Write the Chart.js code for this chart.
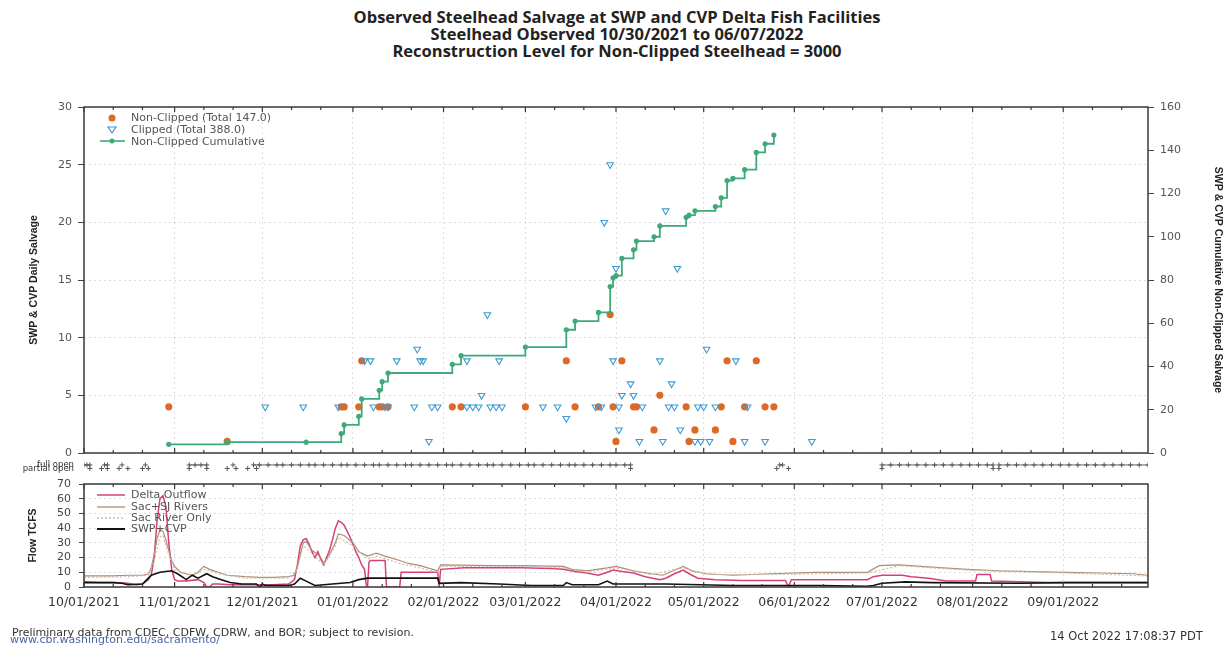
<!DOCTYPE html>
<html><head><meta charset="utf-8">
<script src="https://cdn.jsdelivr.net/npm/chart.js@4.4.1/dist/chart.umd.min.js"></script>
<style>
body{margin:0;background:#fff;width:1228px;height:648px;position:relative;overflow:hidden;font-family:'DejaVu Sans',sans-serif;}
.t{position:absolute;white-space:nowrap;line-height:1;}
#title{position:absolute;left:0;width:1234px;top:8px;text-align:center;font:bold 16.5px 'Open Sans',sans-serif;line-height:17px;color:#222;}
canvas{position:absolute;left:0;}
svg{position:absolute;left:0;top:0;}
</style></head><body>
<div id="title">Observed Steelhead Salvage at SWP and CVP Delta Fish Facilities<br>Steelhead Observed 10/30/2021 to 06/07/2022<br>Reconstruction Level for Non-Clipped Steelhead = 3000</div>
<canvas id="c1" width="1228" height="360" style="top:100px;width:1228px;height:360px"></canvas>
<canvas id="c2" width="1228" height="22" style="top:455px;width:1228px;height:22px"></canvas>
<canvas id="c3" width="1228" height="140" style="top:478px;width:1228px;height:140px"></canvas>
<svg width="1228" height="648">
  <circle cx="112" cy="118" r="3.5" fill="#dc6a26"/>
  <polygon points="108,127 116,127 112,133" fill="none" stroke="#3d9bd1" stroke-width="1.2"/>
  <line x1="100" y1="141" x2="125" y2="141" stroke="#3daa78" stroke-width="1.6"/>
  <circle cx="112" cy="141" r="2.5" fill="#3daa78"/>
  <line x1="97" y1="495" x2="125" y2="495" stroke="#d6407a" stroke-width="1.5"/>
  <line x1="97" y1="507" x2="125" y2="507" stroke="#b08c72" stroke-width="1.3"/>
  <line x1="97" y1="518" x2="125" y2="518" stroke="#c9bfae" stroke-width="1.3" stroke-dasharray="2,2"/>
  <line x1="97" y1="529" x2="125" y2="529" stroke="#111" stroke-width="2"/>
</svg>
<div class="t" style="left:131px;top:112px;font-size:11px;color:#555">Non-Clipped (Total 147.0)</div>
<div class="t" style="left:131px;top:124px;font-size:11px;color:#555">Clipped (Total 388.0)</div>
<div class="t" style="left:131px;top:136px;font-size:11px;color:#555">Non-Clipped Cumulative</div>
<div class="t" style="left:131px;top:489px;font-size:11px;color:#555">Delta Outflow</div>
<div class="t" style="left:131px;top:501px;font-size:11px;color:#555">Sac+SJ Rivers</div>
<div class="t" style="left:131px;top:512px;font-size:11px;color:#555">Sac River Only</div>
<div class="t" style="left:131px;top:523px;font-size:11px;color:#555">SWP+CVP</div>
<div class="t" style="left:12px;top:627px;font-size:11px;color:#333">Preliminary data from CDEC, CDFW, CDRW, and BOR; subject to revision.</div>
<div class="t" style="left:10px;top:634px;font-size:11px;color:#4a64a8">www.cbr.washington.edu/sacramento/</div>
<div class="t" style="left:1050px;top:631px;font-size:11.5px;color:#333">14 Oct 2022 17:08:37 PDT</div>
<script>
// x values are days since 10/01/2021
const monthTickDays=[0,31,61,92,123,151,182,212,243,273,304,335];
const monthTickLabels=['10/01/2021','11/01/2021','12/01/2021','01/01/2022','02/01/2022','03/01/2022','04/01/2022','05/01/2022','06/01/2022','07/01/2022','08/01/2022','09/01/2022'];
const minorTickDays=[10,20,41,51,71,81,102,112,133,143,161,171,192,202,222,232,253,263,283,293,314,324,345,355];
const xMin=0, xMax=364;

// Non-clipped daily salvage
const ncDays=[29,49,88,89,94,95,101,102,104,126,129,151,165,168,176,180,181,182,184,188,189,195,197,206,207,209,216,218,220,222,226,230,233,236];
const ncValues=[4,1,4,4,4,8,4,4,4,4,4,4,8,4,4,12,4,1,8,4,4,2,5,4,1,2,2,4,8,1,4,8,4,4];
// Clipped daily salvage
const cDays=[62,75,87,96,98,99,103,104,107,113,114,115,116,118,119,121,131,131,133,135,136,138,139,141,142,143,157,162,165,175,177,178,180,181,182,183,183,184,187,188,190,191,197,198,199,200,201,202,203,204,209,210,211,212,213,214,216,223,226,227,233,249];
const cValues=[4,4,4,8,8,4,4,4,8,4,9,8,8,1,4,4,4,8,4,4,5,12,4,4,8,4,4,4,3,4,4,20,25,8,16,2,4,5,6,5,1,4,8,1,21,4,6,4,16,2,1,4,1,4,9,1,4,8,1,4,1,1];
// Non-clipped cumulative
const cumDays=[29,49,76,88,89,94,95,101,102,104,126,129,151,165,168,176,180,181,182,184,188,189,195,197,206,207,209,216,218,220,222,226,230,233,236];
const cumValues=[4,5,5,9,13,17,25,29,33,37,41,45,49,57,61,65,77,81,82,90,94,98,100,105,109,110,112,114,118,126,127,131,139,143,147];

// Gate status markers
const fullOpenDays=[0,1,2,null,7,8,null,13,null,21,null,36,38,40,42,null,51,null,58,60,63,66,68,71,74,77,79,82,85,88,90,93,96,99,101,104,107,110,112,115,118,121,124,126,129,132,135,138,140,143,146,149,152,154,157,160,163,166,168,171,174,177,180,182,185,187,null,238,239,null,273,276,279,282,285,288,291,294,297,300,303,306,309,311,null,313,316,319,322,325,328,331,334,337,340,343,346,349,352,355,358,361,364];
const partialOpenDays=[2,6,8,12,15,20,22,36,42,49,52,56,59,187,237,241,273,311,313];

// Flows (TCFS)
const deltaDays=[0,5,10,15,18,20,21,22,23,24,25,26,27,28,29,30,31,32,35,39,41,42,43,44,46,50,55,60,65,70,72,73,74,75,76,77,78,79,80,81,82,83,84,85,86,87,88,89,90,91,92,93,94,95,96,96.5,97,97.5,98,103,103.5,108,108.5,115,121,121.5,122,130,140,150,160,164,168,172,176,179,181,184,188,192,197,199,202,205,207,210,216,225,235,240,241,242,250,260,268,270,273,280,283,289,295,305,305.5,310,310.5,320,330,340,350,364];
const deltaFlow=[3.5,3,3,2.5,1.5,2,3.5,5,8,20,45,60,62,55,30,12,5,4,4,5,3,0,0,2,2,1.5,1.5,1.5,1.5,2,5,15,28,32,33,29,24,20,24,19,15,20,25,32,40,45,44,42,38,34,29,24,20,15,12,2,0,17,18,18,0,0,10,10,10,0,12,13,13,13,12.5,12,10.5,9.5,8,10,11.5,10.5,9.5,7,5,6,9,11.5,9,6,5,4.5,4.5,4.5,0,5,5,5,5,7,8,8,7,6,4,4,8.5,8.5,4,3.5,3,3,3,3];
const sacSjDays=[0,10,15,20,22,23,24,25,26,27,28,29,30,31,33,37,39,41,43,46,49,55,60,65,70,72,73,74,75,76,78,80,81,82,84,86,87,89,92,94,97,100,103,108,111,115,121,122,140,150,164,167,172,179,182,188,194,198,205,208,213,222,235,250,260,268,272,279,290,302,313,336,348,359,364];
const sacSjFlow=[7.5,7.5,8,8,9,13,22,33,39,38,32,25,18,14,10,8,10,14,12,10,8,7,6.5,6.5,7,8,14,22,30,31,25,22,20,16,22,30,36,35,30,24,21,23,21,18,16,14.5,11,15,14.5,14.5,14,12,11,13,14,11,9,8,14,11,9,8,9,10,10,10,14.5,15,13.5,12,11,10,9.5,9,8];
const sacDays=[0,15,22,24,26,27,29,31,37,41,46,55,70,73,75,78,82,86,87,92,97,100,108,115,121,122,150,164,172,182,194,205,213,235,268,279,302,336,364];
const sacFlow=[6.5,7,8,18,34,35,22,12,7,12,9,6,6,12,28,23,15,28,34,28,19,21,16,13,10,14,14,13,10,13,8.5,13,8.5,8.5,9.5,14.5,11.5,9.5,7.5];
const pumpDays=[0,10,13,15,20,21,23,26,30,32,35,37,39,42,44,47,50,54,59,60,61,62,70,72,74,76,79,85,91,94,97,108,115,121,121.5,129,142,153,164,165,167,176,179,181,188,199,211,222,252,268,270,273,281,290,320,336,350,364];
const pumpFlow=[3,3,2.5,1.5,2,4,8,10,11,9,5,8,6,9,7,5,3,2,2,0,2,1,1,2,6,4,1,2,3,5,6,6,6,6,2.5,3,2,1,1,3,1.5,1.5,4,2,2,2,1.5,1,1,0.5,1,2.5,3.5,3,2.5,3,3,3];

const pts=(xs,ys)=>xs.map((d,i)=>({x:d,y:ys[i]}));
Chart.defaults.font.family="'DejaVu Sans', sans-serif";
Chart.defaults.animation=false;
const gridCol='rgba(0,0,0,0.13)';
const titleFont={size:10.5,weight:'bold',family:"'Liberation Sans Narrow','Liberation Sans',sans-serif"};

const framePlugin={id:'frame',afterDraw(chart){
  const {ctx,chartArea:a}=chart; const xs=chart.scales.x;
  ctx.save(); ctx.strokeStyle='#3a3a3a'; ctx.lineWidth=1.5;
  ctx.strokeRect(a.left,a.top,a.right-a.left,a.bottom-a.top);
  ctx.lineWidth=1.2; ctx.beginPath();
  monthTickDays.forEach(d=>{const p=xs.getPixelForValue(d);ctx.moveTo(p,a.bottom);ctx.lineTo(p,a.bottom-5);ctx.moveTo(p,a.top);ctx.lineTo(p,a.top+5);});
  minorTickDays.forEach(d=>{const p=xs.getPixelForValue(d);ctx.moveTo(p,a.bottom);ctx.lineTo(p,a.bottom-3);ctx.moveTo(p,a.top);ctx.lineTo(p,a.top+3);});
  ctx.stroke(); ctx.restore();
}};
const monthTicks=s=>{s.ticks=monthTickDays.map(v=>({value:v}));};
const fitV=w=>s=>{s.width=w;s.paddingTop=0;s.paddingBottom=0;};
const fitH=h=>s=>{s.height=h;s.paddingLeft=0;s.paddingRight=0;};

new Chart(document.getElementById('c1'),{
  data:{datasets:[
    {type:'line',label:'Non-Clipped Cumulative',data:pts(cumDays,cumValues),yAxisID:'y2',stepped:true,borderColor:'#3daa78',borderWidth:1.8,pointRadius:2.6,pointBackgroundColor:'#3daa78',pointBorderWidth:0},
    {type:'scatter',label:'Clipped (Total 388.0)',data:pts(cDays,cValues),yAxisID:'y',pointStyle:'triangle',rotation:180,pointRadius:3.8,backgroundColor:'rgba(255,255,255,0)',borderColor:'#3d9bd1',pointBorderWidth:1.1},
    {type:'scatter',label:'Non-Clipped (Total 147.0)',data:pts(ncDays,ncValues),yAxisID:'y',pointStyle:'circle',pointRadius:3.6,backgroundColor:'#dc6a26',borderWidth:0}
  ]},
  options:{responsive:false,devicePixelRatio:1,layout:{padding:{top:7,left:0,right:0,bottom:0}},
    plugins:{legend:{display:false},tooltip:{enabled:false}},
    scales:{
      x:{type:'linear',min:xMin,max:xMax,afterBuildTicks:monthTicks,ticks:{display:false},grid:{color:gridCol,drawTicks:false},border:{display:false,dash:[2,3]},afterFit:fitH(7)},
      y:{position:'left',min:0,max:30,ticks:{stepSize:5,autoSkip:false,color:'#555',font:{size:11},padding:6},grid:{color:gridCol,tickColor:'#444',tickLength:6},border:{display:false,dash:[2,3]},
         title:{display:true,text:'SWP & CVP Daily Salvage',color:'#222',font:titleFont,padding:{top:28,bottom:0}},afterFit:fitV(84)},
      y2:{position:'right',min:0,max:160,ticks:{stepSize:20,autoSkip:false,color:'#555',font:{size:11},padding:6},grid:{drawOnChartArea:false,tickColor:'#444',tickLength:6},border:{display:false},
         title:{display:true,text:'SWP & CVP Cumulative Non-Clipped Salvage',color:'#222',font:titleFont,padding:{top:4,bottom:0}},afterFit:fitV(80)}
    }},
  plugins:[framePlugin]
});

new Chart(document.getElementById('c2'),{
  type:'line',
  data:{datasets:[
    {label:'full open',data:fullOpenDays.map(d=>({x:d,y:d===null?null:2})),borderColor:'#666',borderWidth:1,pointStyle:'cross',pointRadius:2.5,pointBorderColor:'#555',pointBorderWidth:1,spanGaps:false},
    {label:'partial open',data:partialOpenDays.map(d=>({x:d,y:1})),showLine:false,pointStyle:'cross',pointRadius:2.5,pointBorderColor:'#555',pointBorderWidth:1}
  ]},
  options:{responsive:false,devicePixelRatio:1,layout:{padding:{top:0,right:80,bottom:0,left:0}},
    plugins:{legend:{display:false},tooltip:{enabled:false}},
    scales:{
      x:{type:'linear',min:xMin,max:xMax,display:false},
      y:{min:0,max:3.4,afterBuildTicks:s=>{s.ticks=[{value:1},{value:2}];},ticks:{autoSkip:false,callback:v=>v===2?'full open':(v===1?'partial open':''),font:{size:8.5},color:'#333',padding:2},grid:{display:false},border:{display:false},afterFit:fitV(84)}
    }}
});

new Chart(document.getElementById('c3'),{
  type:'line',
  data:{datasets:[
    {label:'SWP+CVP',data:pts(pumpDays,pumpFlow),borderColor:'#111',borderWidth:1.6,pointRadius:0},
    {label:'Sac River Only',data:pts(sacDays,sacFlow),borderColor:'#c9bfae',borderWidth:1.2,borderDash:[2,2],pointRadius:0},
    {label:'Sac+SJ Rivers',data:pts(sacSjDays,sacSjFlow),borderColor:'#b08c72',borderWidth:1.2,pointRadius:0},
    {label:'Delta Outflow',data:pts(deltaDays,deltaFlow),borderColor:'#d6407a',borderWidth:1.5,pointRadius:0}
  ]},
  options:{responsive:false,devicePixelRatio:1,layout:{padding:{top:6,right:80,bottom:0,left:0}},
    plugins:{legend:{display:false},tooltip:{enabled:false}},
    scales:{
      x:{type:'linear',min:xMin,max:xMax,afterBuildTicks:monthTicks,ticks:{callback:(v)=>{const i=monthTickDays.indexOf(v);return i>=0?monthTickLabels[i]:'';},color:'#333',font:{size:12.5},padding:8,maxRotation:0,autoSkip:false},grid:{color:gridCol,drawTicks:false},border:{display:false,dash:[2,3]},afterFit:fitH(31)},
      y:{min:0,max:70,ticks:{stepSize:10,autoSkip:false,color:'#444',font:{size:11},padding:8},grid:{color:gridCol,tickColor:'#444',tickLength:5},border:{display:false,dash:[2,3]},
         title:{display:true,text:'Flow TCFS',color:'#222',font:titleFont,padding:{top:27,bottom:0}},afterFit:fitV(84)}
    }},
  plugins:[framePlugin]
});
</script>
</body></html>
